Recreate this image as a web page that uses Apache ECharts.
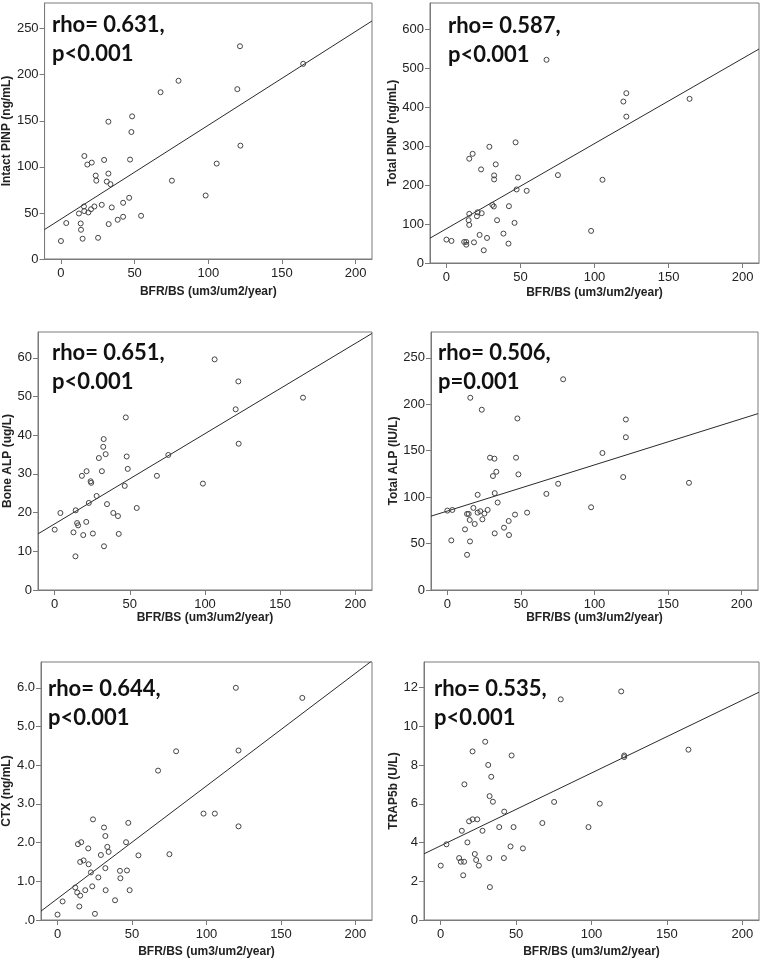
<!DOCTYPE html>
<html><head><meta charset="utf-8">
<script src="https://cdn.jsdelivr.net/npm/echarts@6/dist/echarts.min.js"></script>
<style>html,body{margin:0;padding:0;background:#fff}#c{width:762px;height:960px}</style>
</head><body><div id="c"></div><script>
// ---------- data ----------
const xName = 'BFR/BS (um3/um2/year)';
const xTickValues = [0, 50, 100, 150, 200];
const xMin = -11.1, xMax = 211.1;

const yNames = ['Intact PINP (ng/mL)', 'Total PINP (ng/mL)', 'Bone ALP (ug/L)', 'Total ALP (IU/L)', 'CTX (ng/mL)', 'TRAP5b (U/L)'];
const yTickValues = [
  [0, 50, 100, 150, 200, 250],
  [0, 100, 200, 300, 400, 500, 600],
  [0, 10, 20, 30, 40, 50, 60],
  [0, 50, 100, 150, 200, 250],
  [0, 1, 2, 3, 4, 5, 6],
  [0, 2, 4, 6, 8, 10, 12]
];
const yTickLabels = [
  ['0', '50', '100', '150', '200', '250'],
  ['0', '100', '200', '300', '400', '500', '600'],
  ['0', '10', '20', '30', '40', '50', '60'],
  ['0', '50', '100', '150', '200', '250'],
  ['.0', '1.0', '2.0', '3.0', '4.0', '5.0', '6.0'],
  ['0', '2', '4', '6', '8', '10', '12']
];
const yMax = [277.8, 666.7, 66.67, 277.8, 6.667, 13.33];
const rhoLabels = ['rho= 0.631,\np<0.001', 'rho= 0.587,\np<0.001', 'rho= 0.651,\np<0.001', 'rho= 0.506,\np=0.001', 'rho= 0.644,\np<0.001', 'rho= 0.535,\np<0.001'];

const intactPINP_x = [0, 3.6, 12.2, 13.4, 13.6, 14.7, 15.6, 15.9, 15.8, 17.9, 18.6, 20.9, 20.4, 22.7, 23.6, 24, 25.2, 27.7, 29.3, 31.1, 32.2, 32.2, 32.4, 33.6, 34.5, 38.5, 42.2, 42.2, 46.3, 46.9, 47.8, 48.3, 54.4, 67.6, 75.3, 79.8, 98.2, 105.7, 119.7, 121.5, 121.8, 164.4];
const intactPINP_y = [19.5, 39, 49.4, 38.6, 31.7, 22, 57, 111.8, 52, 102.5, 50.5, 104.6, 54, 57, 90.5, 85, 23, 58.8, 107.5, 84, 92.7, 149, 37.9, 81.2, 56, 42.6, 61, 45.8, 66.4, 107.9, 137.8, 154.8, 46.9, 181, 85, 193.4, 68.9, 103.5, 184.3, 230.9, 123, 211.8];

const totalPINP_x = [0, 3.4, 12, 13.4, 13.4, 15, 15.4, 15.4, 15.4, 17.7, 18.6, 20.6, 21, 22.4, 23.4, 23.8, 25.2, 27.4, 29, 31, 32, 32.2, 32.2, 33.3, 34.2, 38.5, 41.9, 42.2, 46, 46.7, 47.4, 48.3, 54.2, 67.6, 75.3, 97.7, 105.4, 119.5, 121.5, 121.5, 164.2];
const totalPINP_y = [60, 56.6, 54, 54, 47, 109.7, 126, 97.7, 267.4, 280, 53, 120, 130, 72, 240, 127.7, 32.6, 64.3, 298, 149, 144.9, 224.6, 214.3, 252.9, 109.7, 75.4, 49.7, 145.7, 102.9, 309.4, 188.6, 219.4, 185.1, 521, 225.4, 82.3, 213.4, 414, 435.4, 375.4, 420.9];

const boneALP_x = [0, 3.8, 12.5, 13.8, 14, 14.9, 15.6, 18.1, 19, 21, 21.2, 22.7, 23.9, 24.3, 25.4, 27.9, 29.4, 31.4, 32.3, 32.6, 32.8, 33.9, 34.8, 39, 42.1, 42.6, 46.6, 47.3, 47.9, 48.6, 54.6, 68, 75.6, 98.6, 106.4, 120.4, 122.2, 122.4, 165.2];
const boneALP_y = [15.6, 19.9, 14.9, 8.7, 20.6, 17.3, 16.7, 29.5, 14.2, 17.6, 30.7, 22.5, 28.1, 27.7, 14.6, 24.3, 34.1, 30.7, 37, 39, 11.3, 35.1, 22.2, 19.9, 19.1, 14.5, 26.9, 44.6, 34.5, 31.3, 21.2, 29.5, 34.9, 27.5, 59.6, 46.7, 53.9, 37.8, 49.7];

const totalALP_x = [0, 3.4, 2.7, 12, 13.4, 14.5, 13.4, 15.2, 15.4, 15.6, 17.7, 18.6, 20.6, 20.6, 22.4, 23.4, 23.8, 25.2, 27.4, 29, 31, 32, 32.2, 32.2, 33.3, 34.2, 38.5, 41.7, 41.9, 46, 46.7, 47.6, 48.3, 54.2, 67.3, 75.3, 78.7, 97.7, 105.4, 119.5, 121.3, 121.3, 164.2];
const totalALP_y = [85.5, 86.2, 53.4, 65.3, 81.9, 81.9, 37.9, 75.4, 52.3, 207, 88.4, 71.1, 102.5, 83.3, 84.8, 194.1, 76.1, 82.3, 86.2, 142.5, 122.7, 141.4, 104.3, 61, 127.3, 94.2, 67.1, 74.3, 59.2, 81.2, 142.5, 184.7, 124.5, 83.3, 103.5, 114.4, 226.9, 89.1, 147.5, 121.6, 183.6, 164.5, 115.4];

const ctx_x = [0, 3.4, 11.9, 13.2, 13.7, 14.6, 15.2, 15.2, 15.9, 17.5, 18.6, 20.6, 20.9, 22.4, 23.3, 23.8, 25.1, 27.4, 29.1, 31.2, 32.1, 32.3, 32.1, 33.4, 34.3, 38.6, 41.9, 42.2, 46, 46.6, 47.5, 48.4, 54.3, 67.5, 75.1, 79.6, 98, 105.6, 119.7, 121.5, 121.5, 164.3];
const ctx_y = [0.14, 0.48, 0.84, 0.71, 1.96, 0.35, 0.63, 1.5, 2.01, 1.54, 0.77, 1.85, 1.44, 1.23, 0.87, 2.6, 0.16, 1.1, 1.68, 2.39, 1.34, 0.77, 2.17, 1.89, 1.76, 0.51, 1.27, 1.08, 2.01, 1.28, 2.51, 0.77, 1.67, 3.86, 1.7, 4.36, 2.75, 2.75, 6.0, 4.38, 2.42, 5.74];

const trap5b_x = [0, 3.8, 12.2, 13.3, 14, 14.9, 15.5, 15.7, 17.7, 18.8, 21.1, 21.1, 22.6, 23.5, 24.2, 25.3, 27.7, 29.5, 31.5, 32.4, 32.2, 32.6, 33.5, 34.6, 38.8, 42.1, 41.9, 46.3, 47, 48.3, 54.5, 67.4, 75.2, 79.6, 98, 105.5, 119.7, 121.7, 121.7, 164.3];
const trap5b_y = [2.81, 3.91, 3.2, 3.01, 4.61, 2.31, 3.01, 7.01, 4.01, 5.1, 5.2, 8.71, 3.41, 3.1, 5.2, 2.81, 4.61, 9.21, 8.01, 6.4, 3.2, 1.7, 7.4, 6.11, 4.8, 5.6, 3.2, 3.8, 8.5, 4.8, 3.7, 5.01, 6.1, 11.4, 4.8, 6.01, 11.81, 8.5, 8.42, 8.8];

// fit line values at x = xMin and x = xMax
const intactPINP_fit = [32, 258.3];
const totalPINP_fit = [63.7, 548.7];
const boneALP_fit = [14.5, 66.3];
const totalALP_fit = [79.5, 189.9];
const ctx_fit = [0.23, 6.7];
const trap5b_fit = [3.42, 11.77];

// ---------- layout ----------
const panels = [
  { xs: intactPINP_x, ys: intactPINP_y, fit: intactPINP_fit, box: [44, 3, 328, 256], yGap: 29, xGap: 27, txt: [52, 10] },
  { xs: totalPINP_x, ys: totalPINP_y, fit: totalPINP_fit, box: [430, 3, 329, 260], yGap: 29, xGap: 24, txt: [448, 11] },
  { xs: boneALP_x, ys: boneALP_y, fit: boneALP_fit, box: [38, 332, 334, 258], yGap: 22, xGap: 18, txt: [52, 338] },
  { xs: totalALP_x, ys: totalALP_y, fit: totalALP_fit, box: [431, 332, 327, 258], yGap: 30, xGap: 18, txt: [438, 338] },
  { xs: ctx_x, ys: ctx_y, fit: ctx_fit, box: [41, 662, 331, 258], yGap: 26, xGap: 26, txt: [48, 674] },
  { xs: trap5b_x, ys: trap5b_y, fit: trap5b_fit, box: [424, 662, 335, 258], yGap: 22, xGap: 26, txt: [434, 674] }
];

const FONT = 'Liberation Sans, Arial, sans-serif';
const AX = '#7a7a7a';
const grids = [], xAxes = [], yAxes = [], series = [], graphics = [];
panels.forEach((p, i) => {
  grids.push({ left: p.box[0], top: p.box[1], width: p.box[2], height: p.box[3], show: true, borderColor: AX, borderWidth: 1, containLabel: false });
  xAxes.push({
    gridIndex: i, type: 'value', min: xMin, max: xMax,
    splitLine: { show: false },
    axisLine: { show: true, onZero: false, lineStyle: { color: AX, width: 1 } },
    axisTick: { show: true, customValues: xTickValues, length: 5, lineStyle: { color: AX } },
    axisLabel: { customValues: xTickValues, color: '#222', fontSize: 13, fontFamily: FONT, margin: 8 },
    name: xName, nameLocation: 'middle', nameGap: p.xGap,
    nameTextStyle: { fontWeight: 'bold', fontSize: 12, color: '#222', fontFamily: FONT }
  });
  yAxes.push({
    gridIndex: i, type: 'value', min: 0, max: yMax[i],
    splitLine: { show: false },
    axisLine: { show: true, onZero: false, lineStyle: { color: AX, width: 1 } },
    axisTick: { show: true, customValues: yTickValues[i], length: 5, lineStyle: { color: AX } },
    axisLabel: {
      customValues: yTickValues[i], color: '#222', fontSize: 13, fontFamily: FONT, margin: 6,
      formatter: (v) => { const k = yTickValues[i].findIndex(t => Math.abs(t - v) < 1e-9); return k >= 0 ? yTickLabels[i][k] : ''; }
    },
    name: yNames[i], nameLocation: 'middle', nameGap: p.yGap,
    nameTextStyle: { fontWeight: 'bold', fontSize: 12, color: '#222', fontFamily: FONT }
  });
  series.push({
    type: 'line', xAxisIndex: i, yAxisIndex: i, silent: true, symbol: 'none',
    data: [[xMin, p.fit[0]], [xMax, p.fit[1]]],
    lineStyle: { color: '#2a2a2a', width: 1 }, z: 2
  });
  series.push({
    type: 'scatter', xAxisIndex: i, yAxisIndex: i, symbol: 'circle', symbolSize: 5,
    data: p.xs.map((x, k) => [x, p.ys[k]]),
    itemStyle: { color: 'rgba(0,0,0,0)', borderColor: '#444', borderWidth: 1, opacity: 1 }, z: 3
  });
  graphics.push({
    type: 'text', left: p.txt[0], top: p.txt[1], z: 10,
    style: { text: rhoLabels[i], font: 'bold 22px Lato, "Open Sans", sans-serif', fill: '#111', lineHeight: 29 }
  });
});

const chart = echarts.init(document.getElementById('c'), null, { renderer: 'canvas' });
chart.setOption({
  animation: false,
  backgroundColor: '#fff',
  grid: grids, xAxis: xAxes, yAxis: yAxes, series: series, graphic: graphics
});
</script></body></html>
